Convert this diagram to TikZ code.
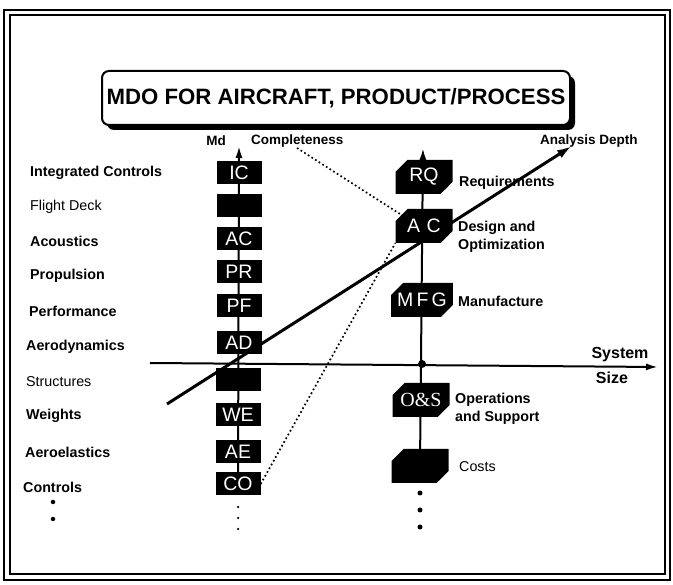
\documentclass[tikz,border=0pt]{standalone}
\usepackage{fontspec}
\setmainfont{Liberation Sans}
\newfontfamily\serifbox{Liberation Serif}
\usetikzlibrary{arrows.meta,shapes.misc,backgrounds}
\begin{document}
\begin{tikzpicture}[x=1pt,y=-1pt,
  lbox/.style={fill=black,text=white,minimum width=45pt,minimum height=23pt,inner sep=0pt,font=\fontsize{19.5}{19.5}\selectfont},
  rbox/.style={chamfered rectangle,chamfered rectangle corners={north west,south east},chamfered rectangle xsep=6pt,chamfered rectangle ysep=6pt,fill=black,text=white,minimum width=57pt,minimum height=34pt,inner sep=0pt,font=\fontsize{19.5}{19.5}\selectfont},
  lab/.style={anchor=west,font=\bfseries\fontsize{14.3}{18.5}\selectfont,align=left,inner sep=0pt},
  labn/.style={anchor=west,font=\fontsize{14.3}{18.5}\selectfont,align=left,inner sep=0pt},
  small/.style={font=\bfseries\fontsize{13.5}{15}\selectfont,inner sep=0pt},
  big/.style={font=\bfseries\fontsize{16}{16}\selectfont,inner sep=0pt},
  axis/.style={line width=2pt},
  tip/.style={-{Latex[length=12pt,width=7pt]}},
  dots/.style={line width=1.7pt,dash pattern=on 1.7pt off 2.6pt},
  dotmark/.style={circle,fill=black,inner sep=0pt}]
\useasboundingbox (0,0) rectangle (673,585);

% title
\node[fill=black,rounded corners=7pt,minimum width=468pt,minimum height=54pt] (tshadow) at (341,103) {};
\node[draw,line width=2pt,fill=white,rounded corners=7pt,minimum width=468pt,minimum height=54pt,font=\bfseries\fontsize{22.2}{22.2}\selectfont] (title) at (336,98) {MDO FOR AIRCRAFT, PRODUCT/PROCESS};

% left column boxes
\node[lbox] (IC) at (239,173) {IC};
\node[lbox] (FD) at (239,206) {};
\node[lbox] (AC) at (239,239) {AC};
\node[lbox] (PR) at (239,272) {PR};
\node[lbox] (PF) at (239,306) {PF};
\node[lbox] (AD) at (239,343) {AD};
\node[lbox] (ST) at (238,380) {};
\node[lbox] (WE) at (238,415) {WE};
\node[lbox] (AE) at (238,452) {AE};
\node[lbox] (CO) at (238,484) {CO};

% right column boxes
\node[rbox] (RQ) at (424,177) {RQ};
\node[rbox] (ACR) at (424,226) {A\,\,C};
\node[rbox] (MFG) at (422,300) {M\,F\,G};
\node[rbox,font=\serifbox\fontsize{20}{20}\selectfont] (OS) at (421,400) {O\&S};
\node[rbox] (CS) at (420,466) {\phantom{RQ}};
\node[dotmark,minimum size=8pt] (X) at (422,364) {};

% left labels
\node[lab]  (l1) at (30,173) {Integrated Controls};
\node[labn] (l2) at (30,207) {Flight Deck};
\node[lab]  (l3) at (30,241) {Acoustics};
\node[lab]  (l4) at (30,276) {Propulsion};
\node[lab]  (l5) at (29,311) {Performance};
\node[lab]  (l6) at (26,347) {Aerodynamics};
\node[labn] (l7) at (26,382) {Structures};
\node[lab]  (l8) at (26,416) {Weights};
\node[lab]  (l9) at (25,452) {Aeroelastics};
\node[lab]  (l10) at (23,487) {Controls};
\node[dotmark,minimum size=4.5pt] (ld1) at (53,502) {};
\node[dotmark,minimum size=4.5pt] (ld2) at (53,519) {};

% right labels
\node[lab]  (r1) at (459,183) {Requirements};
\node[lab]  (r2) at (458,237) {Design and\\Optimization};
\node[lab]  (r3) at (458,301) {Manufacture};
\node[lab]  (r4) at (455,409) {Operations\\and Support};
\node[labn] (r5) at (459,467) {Costs};

% axis labels
\node[small] (md) at (216,141) {Md};
\node[small,anchor=west] (comp) at (251,141) {Completeness};
\node[small,anchor=west] (ad) at (540,141) {Analysis Depth};
\node[big] (sys) at (620,355) {System};
\node[big] (size) at (612,378) {Size};

% dots below axes
\node[dotmark,minimum size=2.5pt] (cd1) at (238,507) {};
\node[dotmark,minimum size=2.5pt] (cd2) at (238,518) {};
\node[dotmark,minimum size=2.5pt] (cd3) at (238,529) {};
\node[dotmark,minimum size=5pt] (rd1) at (420,493) {};
\node[dotmark,minimum size=5pt] (rd2) at (420,510) {};
\node[dotmark,minimum size=5pt] (rd3) at (420,527) {};

\coordinate (ltop) at (239,146);
\coordinate (rtop) at (423,148);
\coordinate (hl) at (150,363);
\coordinate (hr) at (658,367);
\coordinate (d0) at (167,404);
\coordinate (d1) at (572,146);
\coordinate (cstart) at (297,148);

\begin{pgfonlayer}{background}
  % frame
  \draw[line width=2.4pt] (4,10) rectangle (670,580);
  \draw[line width=1.2pt] (10,15) rectangle (665,574);
  % axes
  \draw[axis,tip] (CO.center) -- (ltop);
  \draw[axis,tip] (CS.center) -- (rtop);
  \draw[axis,tip] (hl) -- (hr);
  \draw[line width=3pt,-{Latex[length=15pt,width=9pt]}] (d0) -- (d1);
  % dotted links
  \draw[dots] (cstart) -- (ACR.north west);
  \draw[dots] (CO.east) -- (ACR.south west);
\end{pgfonlayer}
\end{tikzpicture}
\end{document}
